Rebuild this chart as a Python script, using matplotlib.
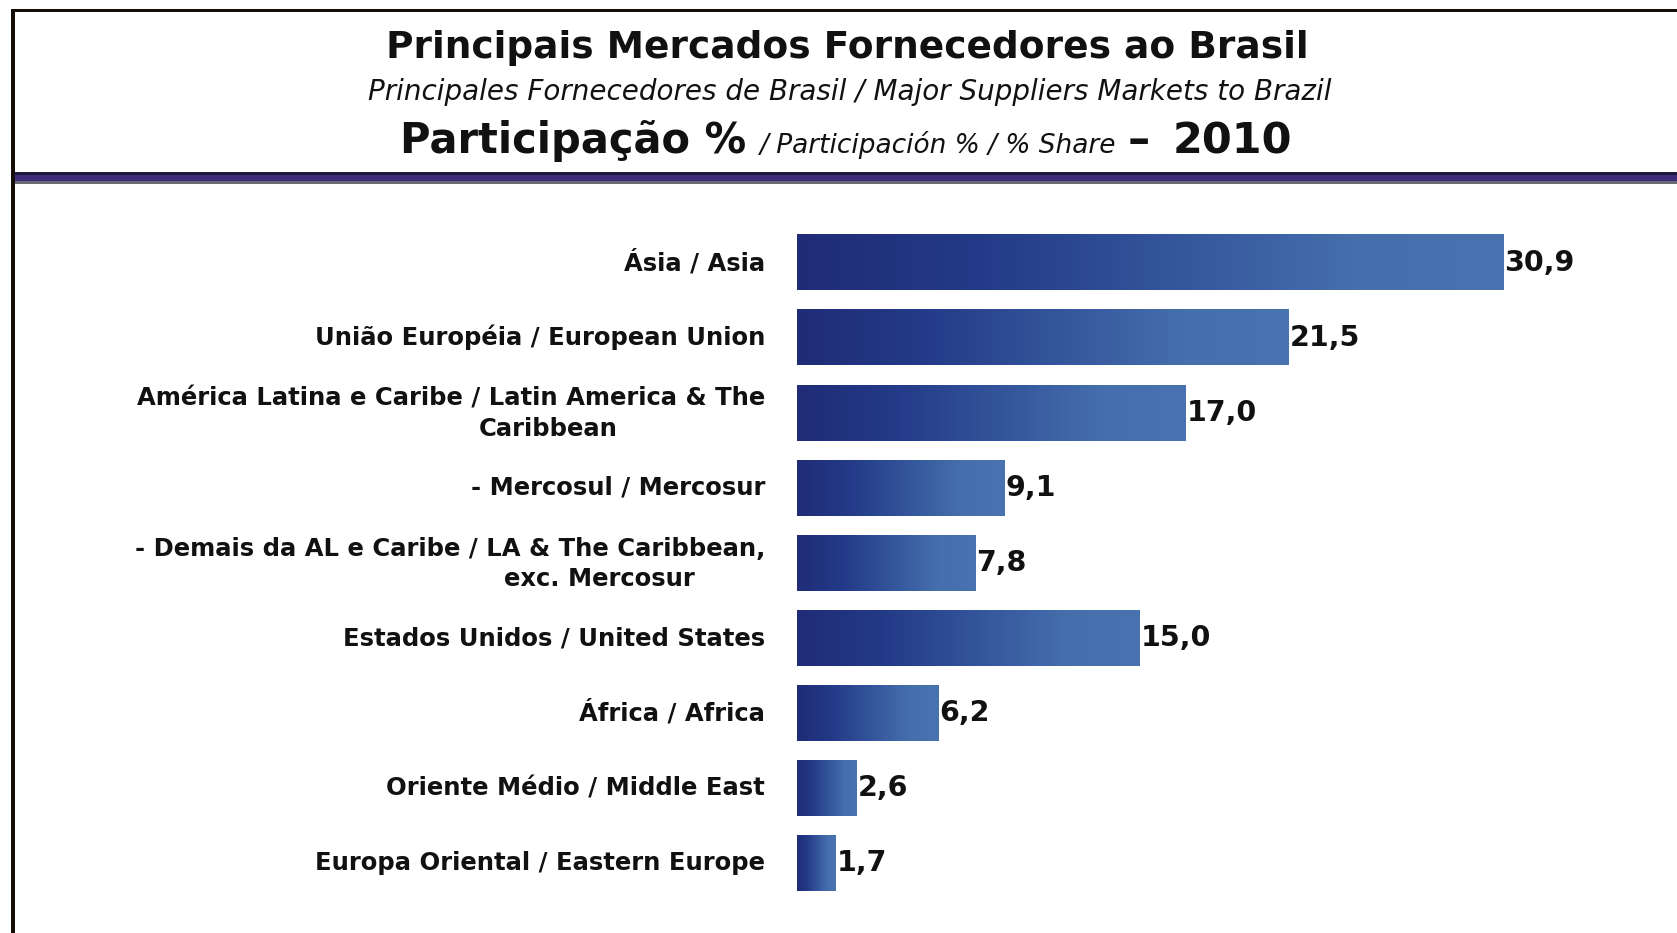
import matplotlib
matplotlib.use("Agg")
import matplotlib.pyplot as plt
import numpy as np
from matplotlib.patches import Rectangle
from matplotlib.colors import LinearSegmentedColormap

# ---------------- data ----------------
categories = [
    "Ásia / Asia",
    "União Européia / European Union",
    "América Latina e Caribe / Latin America & The\nCaribbean",
    "- Mercosul / Mercosur",
    "- Demais da AL e Caribe / LA & The Caribbean,\nexc. Mercosur",
    "Estados Unidos / United States",
    "África / Africa",
    "Oriente Médio / Middle East",
    "Europa Oriental / Eastern Europe",
]
shares = [30.9, 21.5, 17.0, 9.1, 7.8, 15.0, 6.2, 2.6, 1.7]

title_main = "Principais Mercados Fornecedores ao Brasil"
title_sub = "Principales Fornecedores de Brasil / Major Suppliers Markets to Brazil"
title_share_pt = "Participação %"
title_share_other = "/ Participación % / % Share"
title_dash = "–"
title_year = "2010"

# ---------------- layout / style ----------------
W, H = 1677, 933
DPI = 100
fig = plt.figure(figsize=(W / DPI, H / DPI), dpi=DPI)
fig.patch.set_facecolor("white")

def fx(px):
    return px / W

def fy(py):
    return 1 - py / H

def rect_px(x0, y0, x1, y1, color):
    fig.add_artist(Rectangle((fx(x0), fy(y1)), (x1 - x0) / W, (y1 - y0) / H,
                             transform=fig.transFigure, facecolor=color,
                             edgecolor="none", lw=0))

# frame lines
rect_px(11, 9, W, 12, "#140d08")
rect_px(11, 9, 15, H, "#140d08")
# coloured band under the title
rect_px(15, 172, W, 175, "#1d1a3e")
rect_px(15, 175, W, 181, "#3e2b7c")
rect_px(15, 181, W, 184, "#6c6a75")

# axes
ax_left, ax_right = 797, 1650
ax_top, ax_bottom = 225, 901
ax = fig.add_axes([fx(ax_left), fy(ax_bottom), (ax_right - ax_left) / W,
                   (ax_bottom - ax_top) / H])
px_per_unit = 22.85
xmax = (ax_right - ax_left) / px_per_unit
ax.set_axis_off()

y = np.arange(len(categories))
bars = ax.barh(y, shares, height=0.74, color="none", edgecolor="none")

cmap = LinearSegmentedColormap.from_list(
    "bar_grad",
    [(0.0, "#202c76"), (0.25, "#233a88"), (0.5, "#325299"),
     (0.8, "#4670ad"), (1.0, "#4873b0")])
grad = np.linspace(0, 1, 256).reshape(1, -1)
for p in bars:
    x0, y0, w, h = p.get_x(), p.get_y(), p.get_width(), p.get_height()
    ax.imshow(grad, extent=(x0, x0 + w, y0 + h, y0), cmap=cmap,
              aspect="auto", interpolation="bilinear", zorder=2)

ax.set_xlim(0, xmax)
ax.set_ylim(len(categories) - 0.5, -0.5)

# category labels
label_kw = dict(fontsize=17.5, fontweight="bold", color="#111111",
                family="DejaVu Sans")
ytr = ax.get_yaxis_transform()
label_right = (765 - ax_left) / (ax_right - ax_left)
second_line_center = {2: 548, 4: 599}
for i, lab in enumerate(categories):
    lines = lab.split("\n")
    if len(lines) == 1:
        ax.annotate(lab, xy=(label_right, i), xycoords=ytr,
                    ha="right", va="center", annotation_clip=False, **label_kw)
    else:
        ax.annotate(lines[0], xy=(label_right, i), xycoords=ytr,
                    xytext=(0, 14), textcoords="offset pixels",
                    ha="right", va="center", annotation_clip=False, **label_kw)
        cx = (second_line_center[i] - ax_left) / (ax_right - ax_left)
        ax.annotate(lines[1], xy=(cx, i), xycoords=ytr,
                    xytext=(0, -16), textcoords="offset pixels",
                    ha="center", va="center", annotation_clip=False, **label_kw)

# value labels
for i, v in enumerate(shares):
    ax.annotate(f"{v:.1f}".replace(".", ","), xy=(v, i),
                xytext=(1, 0), textcoords="offset pixels",
                ha="left", va="center", fontsize=20.5, fontweight="bold",
                color="#111111", annotation_clip=False)

# titles
fig.text(fx(847), fy(58), title_main, ha="center", va="baseline",
         fontsize=27, fontweight="bold", color="#111111")
fig.text(fx(850), fy(100), title_sub, ha="center", va="baseline",
         fontsize=20, fontstyle="italic", color="#111111")

pieces = [
    (title_share_pt, dict(fontsize=30, fontweight="bold")),
    (title_share_other, dict(fontsize=19, fontstyle="italic")),
    (title_dash, dict(fontsize=32, fontweight="bold")),
    (title_year, dict(fontsize=31, fontweight="bold")),
]
gaps = [13, 12, 22]
fig.canvas.draw()
renderer = fig.canvas.get_renderer()
texts = []
widths = []
for s, kw in pieces:
    t = fig.text(0, fy(153), s, ha="left", va="baseline", color="#111111", **kw)
    widths.append(t.get_window_extent(renderer).width)
    texts.append(t)
total = sum(widths) + sum(gaps)
xpos = 846 - total / 2
for k, t in enumerate(texts):
    t.set_x(fx(xpos))
    xpos += widths[k] + (gaps[k] if k < len(gaps) else 0)

fig.savefig("out.png", dpi=DPI, facecolor="white")
